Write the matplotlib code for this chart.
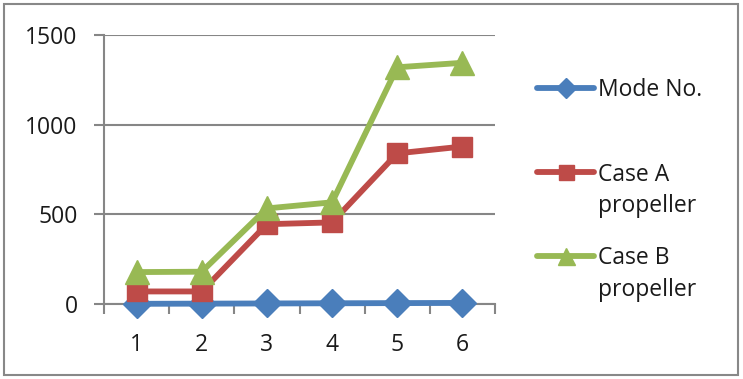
import matplotlib
matplotlib.use("Agg")
import matplotlib.pyplot as plt
from matplotlib.patches import Rectangle
from matplotlib.lines import Line2D

plt.rcParams['font.family'] = ['Open Sans', 'DejaVu Sans']

modes = [1, 2, 3, 4, 5, 6]
mode_no = [1, 2, 3, 4, 5, 6]
case_a = [70, 70, 445, 455, 840, 878]
case_b = [178, 180, 533, 567, 1320, 1345]
series_names = ["Mode No.", "Case A\npropeller", "Case B\npropeller"]
x_labels = ["1", "2", "3", "4", "5", "6"]
y_ticks = [0, 500, 1000, 1500]

blue = "#4A7EBB"
red = "#BE4B48"
green = "#98B954"
grid_gray = "#868686"
text_col = "#1a1a1a"

W, H = 743, 379
fig = plt.figure(figsize=(W/100, H/100), dpi=100)
ax = fig.add_axes([104/W, 1-304/H, (495-104)/W, (304-35)/H])

styles = [(blue, "D", 14), (red, "s", 15), (green, "^", 17)]
for vals, (c, m, ms) in zip([mode_no, case_a, case_b], styles):
    ax.plot(modes, vals, color=c, lw=4.2, marker=m, ms=ms, zorder=3, clip_on=False)

ax.set_xlim(0.5, 6.5)
ax.set_ylim(0, 1500)
ax.set_yticks(y_ticks)
ax.set_yticklabels([str(v) for v in y_ticks], fontsize=16.5)
ax.set_xticks(modes)
ax.set_xticklabels(x_labels, fontsize=16.5)
ax.set_xticks([0.5 + i for i in range(7)], minor=True)
ax.tick_params(axis="x", which="major", length=0, pad=21)
ax.tick_params(axis="x", which="minor", length=7, width=1.5, color=grid_gray, direction="out")
ax.tick_params(axis="y", which="major", length=7, width=1.5, color=grid_gray, direction="out", pad=12)
ax.yaxis.grid(True, color=grid_gray, lw=1.5)
ax.set_axisbelow(True)
for s in ["top", "right"]:
    ax.spines[s].set_visible(False)
for s in ["left", "bottom"]:
    ax.spines[s].set_color(grid_gray)
    ax.spines[s].set_linewidth(1.5)
for lbl in ax.get_xticklabels() + ax.get_yticklabels():
    lbl.set_color(text_col)

# legend (manual, Excel-style: handle aligned with first text line)
handle_y = [88, 172, 256]
baseline_y = [96, 181, 264]
line_step = 31.5
for name, (c, m, ms), hy, by in zip(series_names, styles, handle_y, baseline_y):
    fig.add_artist(Line2D([537/W, 594/W], [1-hy/H, 1-hy/H], transform=fig.transFigure,
                          color=c, lw=4.2, solid_capstyle="round"))
    fig.add_artist(Line2D([565.5/W], [1-hy/H], transform=fig.transFigure,
                          color=c, marker=m, ms=ms*0.72, lw=0))
    for i, part in enumerate(name.split("\n")):
        fig.text(598/W, 1-(by + i*line_step)/H, part, fontsize=16.5, color=text_col,
                 va="baseline", ha="left")

fig.patches.append(Rectangle((3.5/W, 4/H), (738-3.5)/W, (375-4)/H,
                             transform=fig.transFigure, fill=False, edgecolor="#888888", lw=1.5))

fig.savefig("out.png", dpi=100)
